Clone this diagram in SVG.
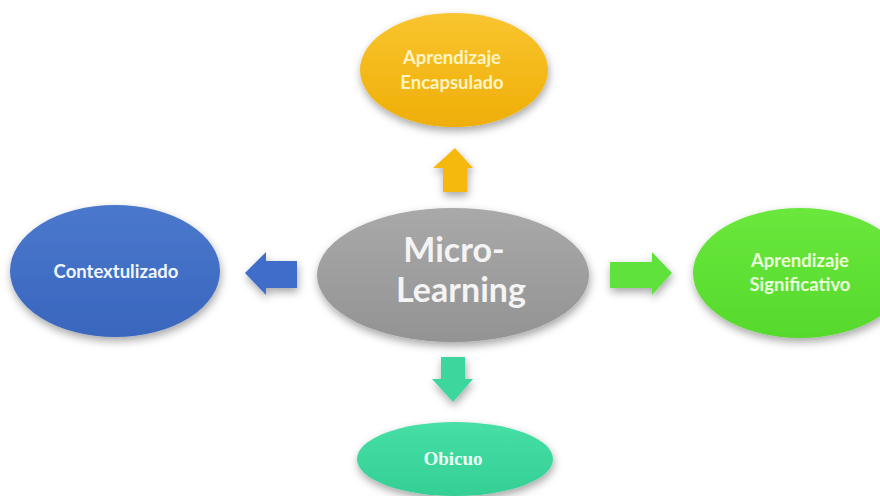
<svg xmlns="http://www.w3.org/2000/svg" width="880" height="496" viewBox="0 0 880 496">
<defs>
<filter id="sh" x="-20%" y="-20%" width="140%" height="150%">
<feDropShadow dx="1" dy="4" stdDeviation="4" flood-color="#000" flood-opacity="0.35"/>
</filter>
<linearGradient id="gY" x1="0" y1="0" x2="0" y2="1"><stop offset="0" stop-color="#f9c530"/><stop offset="1" stop-color="#efae06"/></linearGradient>
<linearGradient id="gG" x1="0" y1="0" x2="0" y2="1"><stop offset="0" stop-color="#a9a9a9"/><stop offset="1" stop-color="#939393"/></linearGradient>
<linearGradient id="gB" x1="0" y1="0" x2="0" y2="1"><stop offset="0" stop-color="#4a78cc"/><stop offset="1" stop-color="#3a66be"/></linearGradient>
<linearGradient id="gL" x1="0" y1="0" x2="0" y2="1"><stop offset="0" stop-color="#6ae83c"/><stop offset="1" stop-color="#56d92c"/></linearGradient>
<linearGradient id="gT" x1="0" y1="0" x2="0" y2="1"><stop offset="0" stop-color="#46dfa6"/><stop offset="1" stop-color="#34cf94"/></linearGradient>
</defs>
<style>
.t{font-family:Lato,"Liberation Sans",sans-serif;font-weight:bold;text-anchor:middle}
.s{font-size:18.5px}
.c{font-size:34px;fill:#f4f4f4}
.o{font-family:"Liberation Serif","DejaVu Serif",serif;font-weight:bold;font-size:19px;text-anchor:middle;fill:#ecfff6}
</style>
<rect width="880" height="496" fill="#ffffff"/>
<g id="connectors" filter="url(#sh)">
<polygon points="455,148 473,168 467,168 467,192 443,192 443,168 433,168" fill="#f5b80d"/>
<polygon points="245,273 266,252 266,261 297,261 297,288 266,288 266,295" fill="#3f6dc9"/>
<polygon points="672,273 652,252 652,262 610,262 610,288 652,288 652,295" fill="#5fe23a"/>
<polygon points="453,402 473,379 465,379 465,357 441,357 441,379 432,379" fill="#3dd69c"/>
</g>
<g id="encapsulado">
<ellipse cx="454" cy="70" rx="94" ry="57" fill="url(#gY)" filter="url(#sh)"/>
<text class="t s" x="452" y="64" fill="#fff4c4">Aprendizaje</text>
<text class="t s" x="452" y="89" fill="#fff4c4">Encapsulado</text>
</g>
<g id="microlearning">
<ellipse cx="453" cy="275" rx="136" ry="67" fill="url(#gG)" filter="url(#sh)"/>
<text class="t c" x="454" y="262">Micro-</text>
<text class="t c" x="461" y="302">Learning</text>
</g>
<g id="contextulizado">
<ellipse cx="115" cy="271" rx="105" ry="66" fill="url(#gB)" filter="url(#sh)"/>
<text class="t s" x="116" y="278" fill="#f2f6ff">Contextulizado</text>
</g>
<g id="significativo">
<ellipse cx="800" cy="273" rx="107" ry="65" fill="url(#gL)" filter="url(#sh)"/>
<text class="t s" x="800" y="267" fill="#eaffdc">Aprendizaje</text>
<text class="t s" x="800" y="291" fill="#eaffdc">Significativo</text>
</g>
<g id="obicuo">
<ellipse cx="455" cy="459" rx="98" ry="37" fill="url(#gT)" filter="url(#sh)"/>
<text class="o" x="453" y="465">Obicuo</text>
</g>
</svg>
